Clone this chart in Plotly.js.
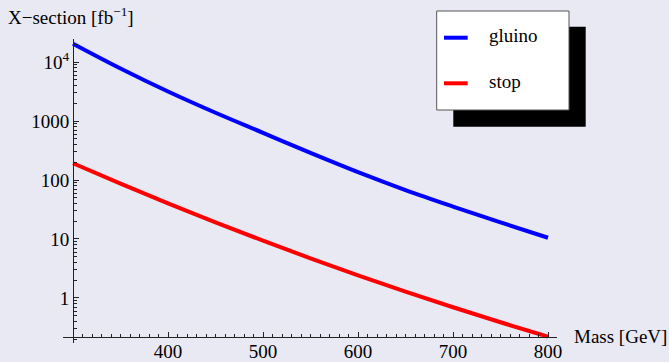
<!DOCTYPE html>
<html>
<head>
<meta charset="utf-8">
<script src="https://cdn.plot.ly/plotly-3.0.1.min.js"></script>
<style>
html,body{margin:0;padding:0;background:#E9E9F3;}
#chart{width:669px;height:362px;}
</style>
</head>
<body>
<div id="chart"></div>
<script>
// Data
const mass = [300, 350, 400, 450, 500, 550, 600, 650, 700, 750, 800];
const gluino = [20400, 7760, 3160, 1380, 631, 288, 136, 67.6, 35.5, 19.1, 10.5];
const stop = [192, 86.7, 40.2, 19.1, 9.36, 4.70, 2.42, 1.28, 0.697, 0.388, 0.222];
const seriesNames = ['gluino', 'stop'];
const xTickVals = [400, 500, 600, 700, 800];
const xTickText = ['400', '500', '600', '700', '800'];
const yTickVals = [1, 10, 100, 1000, 10000];
const yTickText = ['1', '10', '100', '1000', '10<sup>4</sup>'];

const FONT = 'Liberation Serif';
const FS = 19;
const BG = '#E9E9F3';
const AX = '#222222';

// pixel -> paper helpers (plot area: x 63..557, y 39..343)
const L = 63, W = 494, T = 39, H = 304;
const px = v => (v - L) / W;
const py = v => (T + H - v) / H;

const traces = [
  {x: mass, y: gluino, name: seriesNames[0], mode: 'lines',
   line: {color: '#0000FF', width: 4, shape: 'spline'}, hoverinfo: 'skip'},
  {x: mass, y: stop, name: seriesNames[1], mode: 'lines',
   line: {color: '#FF0000', width: 4, shape: 'spline'}, hoverinfo: 'skip'}
];

const layout = {
  width: 669, height: 362,
  margin: {l: L, r: 669 - L - W, t: T, b: 362 - T - H, pad: 0},
  paper_bgcolor: BG, plot_bgcolor: BG,
  showlegend: false,
  font: {family: FONT, size: FS, color: '#000'},
  xaxis: {
    range: [289.47, 809.47], anchor: 'free', position: py(337),
    showline: true, linecolor: AX, linewidth: 1,
    showgrid: false, zeroline: false,
    ticks: 'inside', ticklen: 5, tickwidth: 1, tickcolor: AX,
    tickmode: 'array', tickvals: xTickVals, ticktext: xTickText,
    tickfont: {family: FONT, size: FS, color: '#000'},
    ticklabelstandoff: -3,
    minor: {ticks: 'inside', ticklen: 3, tickwidth: 1, tickcolor: AX, dtick: 10, tick0: 300, showgrid: false},
    automargin: false, fixedrange: true
  },
  yaxis: {
    type: 'log', range: [-0.763, 4.39], anchor: 'free', position: px(73),
    showline: true, linecolor: AX, linewidth: 1,
    showgrid: false, zeroline: false,
    ticks: 'inside', ticklen: 5, tickwidth: 1, tickcolor: AX,
    tickmode: 'array', tickvals: yTickVals, ticktext: yTickText,
    tickfont: {family: FONT, size: FS, color: '#000'},
    minor: {ticks: 'inside', ticklen: 3, tickwidth: 1, tickcolor: AX, dtick: 'D1', showgrid: false},
    automargin: false, fixedrange: true
  },
  shapes: [
    {type: 'rect', xref: 'paper', yref: 'paper', x0: px(453.3), x1: px(585.7), y0: py(126.7), y1: py(26.7),
     fillcolor: '#000', line: {width: 0}, layer: 'above'},
    {type: 'rect', xref: 'paper', yref: 'paper', x0: px(436.7), x1: px(569), y0: py(110), y1: py(11),
     fillcolor: '#FFFFFF', line: {color: '#555', width: 1}, layer: 'above'},
    {type: 'line', xref: 'paper', yref: 'paper', x0: px(444), x1: px(467.7), y0: py(37.7), y1: py(37.7),
     line: {color: '#0000FF', width: 4}, layer: 'above'},
    {type: 'line', xref: 'paper', yref: 'paper', x0: px(444), x1: px(467.7), y0: py(83.3), y1: py(83.3),
     line: {color: '#FF0000', width: 4}, layer: 'above'}
  ],
  annotations: [
    {xref: 'paper', yref: 'paper', x: px(487), y: py(35), xanchor: 'left', yanchor: 'middle',
     text: seriesNames[0], showarrow: false, font: {family: FONT, size: FS, color: '#000'}},
    {xref: 'paper', yref: 'paper', x: px(487), y: py(81), xanchor: 'left', yanchor: 'middle',
     text: seriesNames[1], showarrow: false, font: {family: FONT, size: FS, color: '#000'}},
    {xref: 'paper', yref: 'paper', x: px(6), y: py(16), xanchor: 'left', yanchor: 'middle',
     text: 'X\u2212section [fb<sup>\u22121</sup>]', showarrow: false, font: {family: FONT, size: FS, color: '#000'}},
    {xref: 'paper', yref: 'paper', x: px(572), y: py(336.5), xanchor: 'left', yanchor: 'middle',
     text: 'Mass [GeV]', showarrow: false, font: {family: FONT, size: FS, color: '#000'}}
  ]
};

Plotly.newPlot('chart', traces, layout, {staticPlot: true, displayModeBar: false});
</script>
</body>
</html>
